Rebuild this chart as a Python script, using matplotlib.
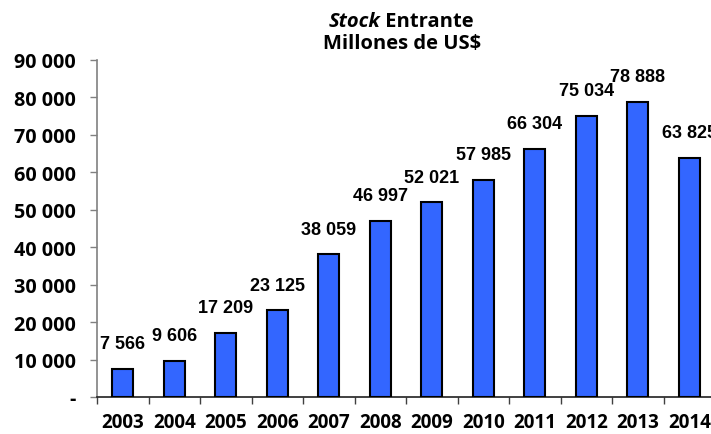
import matplotlib
matplotlib.use("Agg")
import matplotlib.pyplot as plt
import numpy as np

anios = ["2003", "2004", "2005", "2006", "2007", "2008", "2009",
         "2010", "2011", "2012", "2013", "2014"]
stock = [7566, 9606, 17209, 23125, 38059, 46997, 52021,
         57985, 66304, 75034, 78888, 63825]
y_ticks = [0, 10000, 20000, 30000, 40000, 50000, 60000, 70000, 80000, 90000]


def fmt_miles(v):
    if v == 0:
        return "-"
    return f"{v:,.0f}".replace(",", " ")


fig = plt.figure(figsize=(7.11, 4.35), dpi=100)
ax = fig.add_axes([97 / 711, 37 / 435, 618 / 711, 337 / 435])

x = np.arange(len(anios))
barras = ax.bar(x, stock, width=0.41, color="#3366ff", edgecolor="black",
                linewidth=1.5, zorder=3)

for barra, v in zip(barras, stock):
    ax.annotate(fmt_miles(v),
                (barra.get_x() + barra.get_width() / 2, barra.get_height()),
                xytext=(0, 12), textcoords="offset points",
                ha="center", va="bottom", fontsize=13, fontweight="bold",
                family="Liberation Sans", clip_on=False)

ax.set_xlim(-0.5, len(anios) - 0.5)
ax.set_ylim(0, 90000)
ax.set_yticks(y_ticks)
ax.set_yticklabels([fmt_miles(v) for v in y_ticks])
ax.set_xticks(x)
ax.set_xticklabels(anios)
ax.set_xticks(np.arange(len(anios) + 1) - 0.5, minor=True)

for lab in ax.get_xticklabels():
    lab.set_family("Open Sans")
    lab.set_fontweight("bold")
    lab.set_fontsize(13.5)
for lab in ax.get_yticklabels():
    lab.set_family("Open Sans")
    lab.set_fontweight("bold")
    lab.set_fontsize(14.2)

ax.tick_params(axis="x", which="major", length=0, pad=11)
ax.tick_params(axis="x", which="minor", length=5, color="#404040", width=1)
ax.tick_params(axis="y", length=5, color="#808080", width=1, pad=10)

ax.spines["top"].set_visible(False)
ax.spines["right"].set_visible(False)
ax.spines["left"].set_color("#808080")
ax.spines["left"].set_linewidth(1.2)
ax.spines["bottom"].set_color("#202020")
ax.spines["bottom"].set_linewidth(1.2)

# titulo: "Stock" en cursiva + " Entrante"
t1 = fig.text(0, 1 - 22 / 435, "Stock", fontsize=14.5, fontweight="bold",
              style="italic", family="Open Sans", va="center", ha="left")
t2 = fig.text(0, 1 - 22 / 435, " Entrante", fontsize=14.5, fontweight="bold",
              family="Open Sans", va="center", ha="left")
fig.text(402 / 711, 1 - 44 / 435, "Millones de US$", fontsize=14.5,
         fontweight="bold", family="Open Sans", va="center", ha="center")

fig.canvas.draw()
r = fig.canvas.get_renderer()
w1 = t1.get_window_extent(r).width
w2 = t2.get_window_extent(r).width
x0 = 401 - (w1 + w2) / 2
t1.set_x(x0 / 711)
t2.set_x((x0 + w1) / 711)

fig.savefig("out.png", dpi=100)
